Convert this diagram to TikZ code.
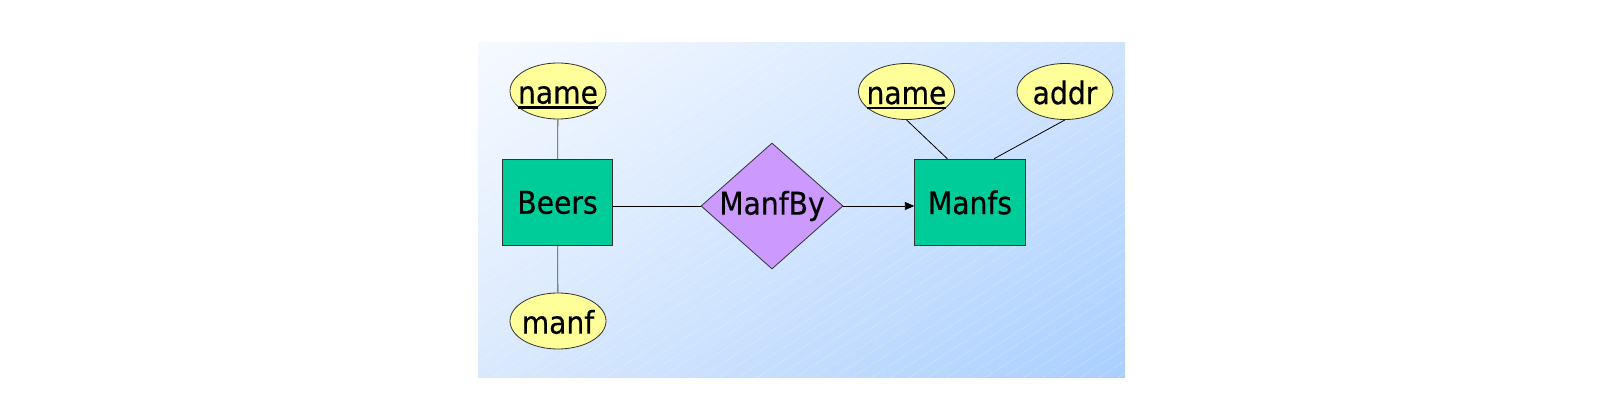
\documentclass[tikz,border=0pt]{standalone}
\usepackage{fontspec}
\setmainfont{DejaVu Sans Condensed}[FakeBold=0.4]
\usetikzlibrary{shapes.geometric,arrows.meta,shadings}
\definecolor{entgreen}{HTML}{00CC99}
\definecolor{attyellow}{HTML}{FFFF99}
\definecolor{relpurple}{HTML}{CC99FF}
\definecolor{bgtl}{HTML}{F6FAFF}
\definecolor{bgtr}{HTML}{CFE3FF}
\definecolor{bgbl}{HTML}{DAE9FD}
\definecolor{bgbr}{HTML}{A9CFFF}
\newcommand{\keyattr}[1]{\setbox0\hbox{#1}\rlap{\smash{\rule[-3.8pt]{\wd0}{1.8pt}}}\box0}
\tikzset{
	entity/.style={draw=black!80,line width=0.6pt,fill=entgreen,minimum width=83pt,minimum height=65pt,inner sep=0pt},
	attr/.style={ellipse,draw=black!80,line width=0.6pt,fill=attyellow,minimum width=72pt,minimum height=42pt,inner xsep=-8pt,inner ysep=-4pt,text height=19pt,text depth=0pt},
	relation/.style={diamond,aspect=1.13,draw=black!80,line width=0.6pt,fill=relpurple,minimum width=106.5pt,minimum height=94.5pt,inner sep=0pt},
	link/.style={line width=0.6pt}
}
\begin{document}
\begin{tikzpicture}[>={Triangle[length=7pt,width=6pt]},x=0.75pt,y=-0.75pt,font=\fontsize{23.5}{28}\selectfont]
	\useasboundingbox (0,0) rectangle (1603,420);
	\shade[upper left=bgtl,upper right=bgtr,lower left=bgbl,lower right=bgbr] (478,43) rectangle (1125,377); % nen
	\begin{scope}
		\clip (478,43) rectangle (1125,377);
		\foreach \x in {-40,-21,...,1125}
			\draw[white,opacity=.45,line width=.4pt,dash pattern=on 1pt off 1pt] (\x,377) -- ++(514,-334);
	\end{scope}
	\node[entity] (beers) at (557.5,202.5) {Beers};
	\node[entity] (manfs) at (970,202.5) {Manfs};
	\node[relation] (manfby) at (772,206) {ManfBy};
	\node[attr] (bname) at (558,91) {\keyattr{name}};
	\node[attr] (bmanf) at (558,321) {manf};
	\node[attr] (mname) at (906.5,91.5) {\keyattr{name}};
	\node[attr] (maddr) at (1065,91.5) {addr};
	\draw[link,gray!60!black] (bname) -- (beers) (beers) -- (bmanf);
	\draw[link] (manfby.west -| beers.east) -- (manfby.west);
	\draw[link,->] (manfby.east) -- (manfby.east -| manfs.west);
	\draw[link] (mname.south) -- ([xshift=-17pt]manfs.north);
	\draw[link] (maddr.south) -- ([xshift=18pt]manfs.north);
\end{tikzpicture}
\end{document}
